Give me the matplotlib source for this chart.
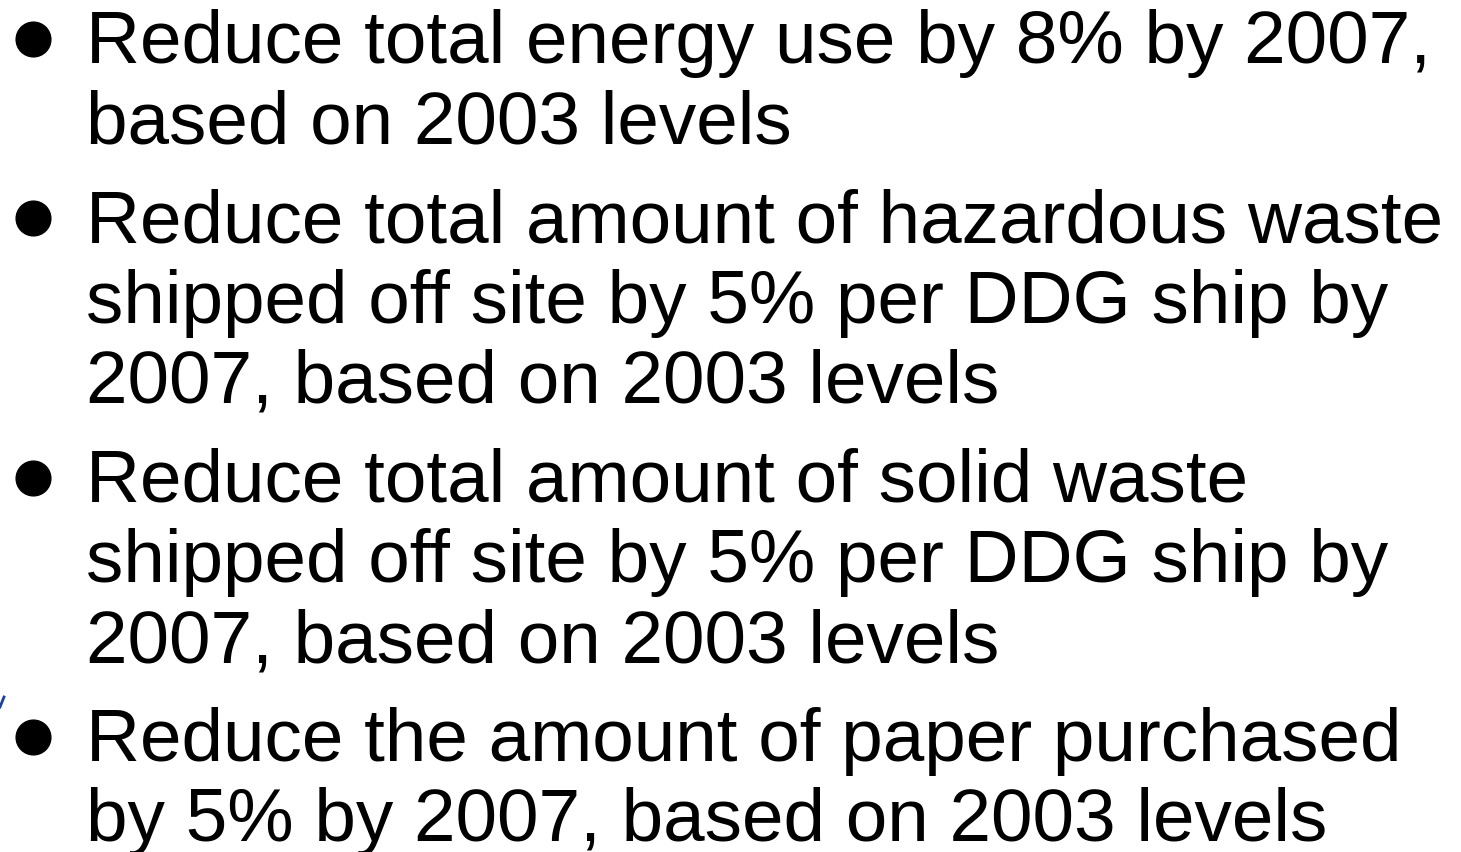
import matplotlib
matplotlib.use('Agg')
import matplotlib.pyplot as plt

# bullet texts, one list of wrapped lines per bullet
bullets = [
    ["Reduce total energy use by 8% by 2007,",
     "based on 2003 levels"],
    ["Reduce total amount of hazardous waste",
     "shipped off site by 5% per DDG ship by",
     "2007, based on 2003 levels"],
    ["Reduce total amount of solid waste",
     "shipped off site by 5% per DDG ship by",
     "2007, based on 2003 levels"],
    ["Reduce the amount of paper purchased",
     "by 5% by 2007, based on 2003 levels"],
]

W, H = 1461, 853
fig = plt.figure(figsize=(W / 100, H / 100), dpi=100)
ax = fig.add_axes([0, 0, 1, 1])
ax.set_xlim(0, W)
ax.set_ylim(H, 0)
ax.axis('off')

font = dict(family=['Liberation Sans', 'DejaVu Sans'], size=53.8, color='black')

y = 63
for lines in bullets:
    ax.plot(33, y - 23, 'o', ms=25, color='black', mec='black')
    for line in lines:
        ax.text(86, y, line, va='baseline', ha='left', **font)
        y += 80.5
    y += 18

# small blue fragment at left edge
ax.plot([0, 4], [708, 698], color='#2040a0', lw=2)

fig.savefig('out.png', dpi=100)
